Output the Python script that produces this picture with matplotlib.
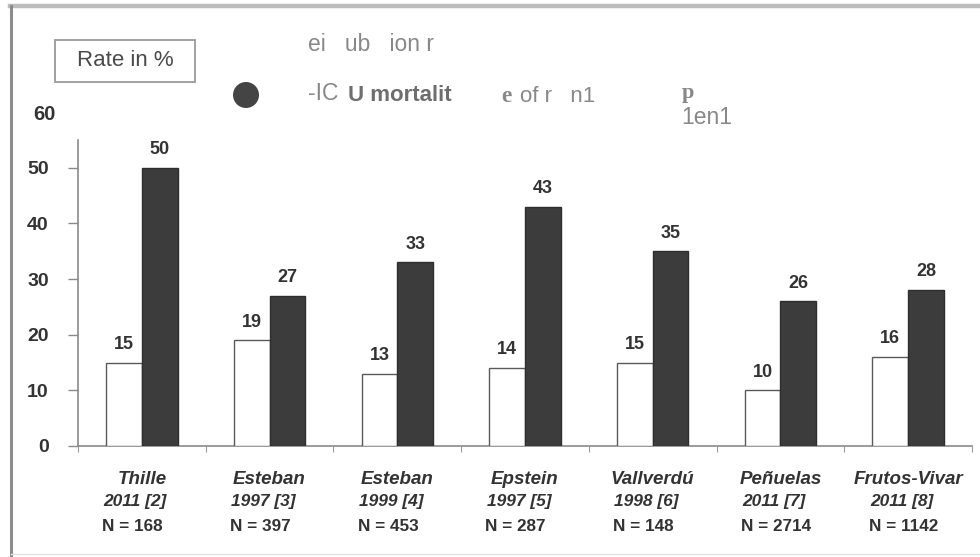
import matplotlib
matplotlib.use("Agg")
import matplotlib.pyplot as plt
from matplotlib.patches import Circle, Rectangle
import numpy as np

# Study data
studies = ["Thille", "Esteban", "Esteban", "Epstein", "Vallverdú", "Peñuelas", "Frutos-Vivar"]
refs = ["2011 [2]", "1997 [3]", "1999 [4]", "1997 [5]", "1998 [6]", "2011 [7]", "2011 [8]"]
sizes = ["N = 168", "N = 397", "N = 453", "N = 287", "N = 148", "N = 2714", "N = 1142"]
reintubation = [15, 19, 13, 14, 15, 10, 16]
mortality = [50, 27, 33, 43, 35, 26, 28]
yticks = [0, 10, 20, 30, 40, 50]

W, H = 980, 557
fig = plt.figure(figsize=(W / 100, H / 100), dpi=100)
fig.patch.set_facecolor("white")

def px(x, y):
    return x / W, 1 - y / H

# outer frame
fig.add_artist(plt.Line2D([10 / W, 1.0], [1 - 6 / H] * 2, color="#bdbdbd", lw=3.2))
fig.add_artist(plt.Line2D([11 / W] * 2, [1 - 6 / H, 1 - 556 / H], color="#8c8c8c", lw=2.2))
fig.add_artist(plt.Line2D([11 / W, 1.0], [1 - 554 / H] * 2, color="#e2e2e2", lw=1.0))

# axes area
left, right, bottom, top = 78, 972, 446, 140
ax = fig.add_axes([left / W, 1 - bottom / H, (right - left) / W, (bottom - top) / H])
ax.set_xlim(-0.5, len(studies) - 0.5)
ax.set_ylim(0, 55)

x = np.arange(len(studies))
bw = 0.28
ax.bar(x - bw / 2, reintubation, width=bw, color="white", edgecolor="#5a5a5a", linewidth=1.0, zorder=3)
ax.bar(x + bw / 2, mortality, width=bw, color="#3c3c3c", edgecolor="#2e2e2e", linewidth=1.0, zorder=3)

lab_font = dict(family="Liberation Sans", fontweight="bold", fontsize=13, color="#333333")
for xi, v in zip(x - bw / 2, reintubation):
    ax.annotate(str(v), (xi, v), xytext=(0, 7), textcoords="offset points",
                ha="center", va="bottom", **lab_font)
for xi, v in zip(x + bw / 2, mortality):
    ax.annotate(str(v), (xi, v), xytext=(0, 7), textcoords="offset points",
                ha="center", va="bottom", **lab_font)

for s in ("top", "right"):
    ax.spines[s].set_visible(False)
for s in ("left", "bottom"):
    ax.spines[s].set_color("#8a8a8a")
    ax.spines[s].set_linewidth(1.2)

ax.set_yticks(yticks)
ax.set_yticklabels([str(t) for t in yticks], family="Liberation Sans", fontweight="bold",
                   fontsize=14, color="#333333")
ax.tick_params(axis="y", length=7, width=1.0, color="#8a8a8a", pad=14)
ax.set_xticks(np.arange(-0.5, len(studies), 1.0))
ax.set_xticklabels([])
ax.tick_params(axis="x", length=4, width=0.8, color="#9a9a9a")

# category labels
tr = ax.get_xaxis_transform()
name_font = dict(family="Liberation Sans", fontweight="bold", style="italic", color="#333333")
for xi, nm, rf, n in zip(x, studies, refs, sizes):
    ax.text(xi, -0.108, nm, transform=tr, ha="center", va="center", fontsize=13.5, **name_font)
    ax.text(xi - bw - 0.02, -0.183, rf, transform=tr, ha="left", va="center", fontsize=12.5, **name_font)
    ax.text(xi - bw - 0.03, -0.262, n, transform=tr, ha="left", va="center",
            family="Liberation Sans", fontweight="bold", fontsize=12.3, color="#333333")

# "60" label above the axis
fig.text(*px(33, 115), "60", family="Liberation Sans", fontweight="bold", fontsize=14.5,
         color="#333333", ha="left", va="center")

# legend box
box = Rectangle(px(55, 82), 140 / W, 42 / H, transform=fig.transFigure,
                facecolor="white", edgecolor="#9a9a9a", lw=1.3)
fig.add_artist(box)
fig.text(*px(125, 61), "Rate in %", family="Liberation Sans", fontsize=16,
         color="#4a4a4a", ha="center", va="center")

# round marker, placed in inches so it stays circular
fig.add_artist(Circle((246 / 100, (H - 95) / 100), 13 / 100, transform=fig.dpi_scale_trans,
                      facecolor="#444444", edgecolor="none"))

gray = "#888888"
fig.text(*px(308, 51), "ei   ub   ion r", family="Liberation Sans", fontsize=16.5,
         color=gray, ha="left", va="baseline")
fig.text(*px(308, 100), "-IC", family="Liberation Sans", fontsize=16.5,
         color=gray, ha="left", va="baseline")
fig.text(*px(348, 101), "U mortalit", family="Liberation Sans", fontweight="bold",
         fontsize=16, color="#6e6e6e", ha="left", va="baseline")
fig.text(*px(501, 102), "e", family="Liberation Serif", fontweight="bold", fontsize=17,
         color=gray, ha="left", va="baseline")
fig.text(*px(520, 102), "of r   n1", family="Liberation Sans", fontsize=16,
         color=gray, ha="left", va="baseline")
fig.text(*px(682, 98), "p", family="Liberation Serif", fontweight="bold", fontsize=16,
         color=gray, ha="left", va="baseline")
fig.text(*px(681, 124), "1en1", family="Liberation Sans", fontsize=16.5,
         color=gray, ha="left", va="baseline")

fig.savefig("out.png", dpi=100, facecolor="white")
